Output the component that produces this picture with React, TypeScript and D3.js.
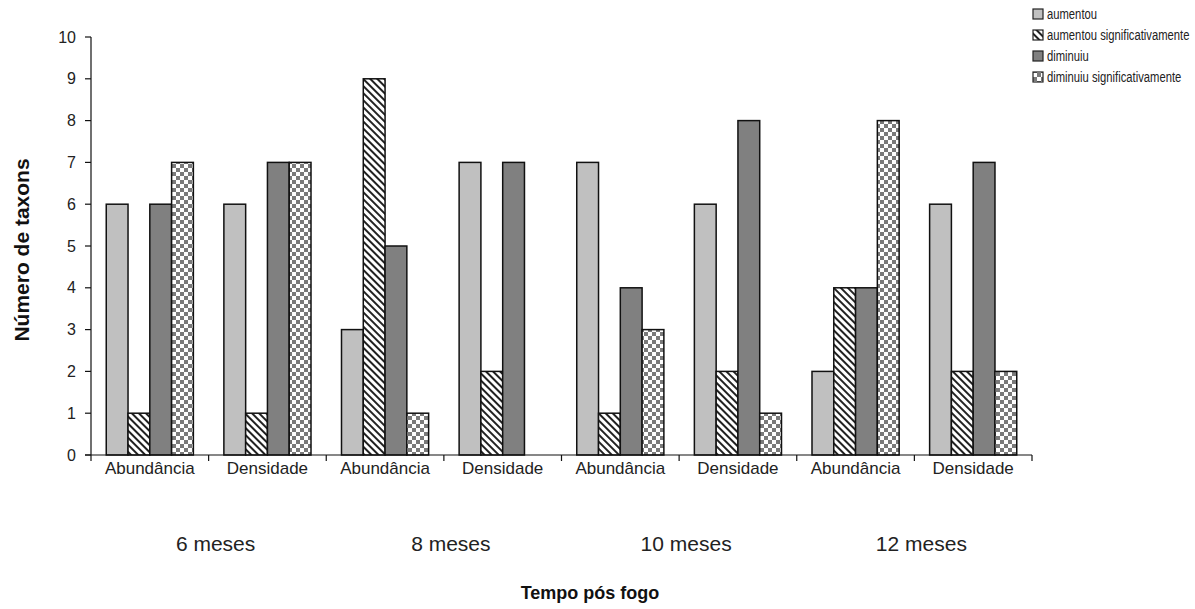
import React from "react";
import * as d3 from "d3";

const periods = ["6 meses", "8 meses", "10 meses", "12 meses"];
const measures = ["Abundância", "Densidade"];
const seriesNames = [
  "aumentou",
  "aumentou significativamente",
  "diminuiu",
  "diminuiu significativamente",
];
// values per category (period x measure), order: 6m Abund, 6m Dens, 8m Abund, ...
const aumentou = [6, 6, 3, 7, 7, 6, 2, 6];
const aumentouSig = [1, 1, 9, 2, 1, 2, 4, 2];
const diminuiu = [6, 7, 5, 7, 4, 8, 4, 7];
const diminuiuSig = [7, 7, 1, 0, 3, 1, 8, 2];
const yTicks = [0, 1, 2, 3, 4, 5, 6, 7, 8, 9, 10];

const W = 1195;
const H = 609;

export default function App() {
  const left = 91;
  const right = 1032;
  const top = 37;
  const bottom = 455;
  const cats = d3.range(8);
  const x = d3.scaleBand<number>().domain(cats).range([left, right]).padding(0);
  const xs = d3
    .scaleBand<number>()
    .domain([0, 1, 2, 3])
    .range([0, x.bandwidth()])
    .paddingInner(0)
    .paddingOuter(0.7);
  const y = d3.scaleLinear().domain([0, 10]).range([bottom, top]);
  const series = [aumentou, aumentouSig, diminuiu, diminuiuSig];
  const fills = ["#c0c0c0", "url(#stripes)", "#808080", "url(#checker)"];
  const font = "'Liberation Sans', Arial, sans-serif";

  const legendX = 1033;
  const legendY0 = 14;
  const legendDy = 21;

  return (
    <svg width={W} height={H} style={{ position: "absolute", left: 0, top: 0, background: "#fff" }}>
      <defs>
        <pattern id="stripes" width={5} height={5} patternUnits="userSpaceOnUse" patternTransform="rotate(-45)">
          <rect width={5} height={5} fill="#fff" />
          <line x1={1} y1={0} x2={1} y2={5} stroke="#222" strokeWidth={2} />
        </pattern>
        <pattern id="checker" width={8} height={8} patternUnits="userSpaceOnUse">
          <rect width={8} height={8} fill="#fff" />
          <rect x={0} y={0} width={4} height={4} fill="#7a7a7a" />
          <rect x={4} y={4} width={4} height={4} fill="#7a7a7a" />
        </pattern>
      </defs>
      <rect width={W} height={H} fill="#fff" />

      {/* bars */}
      {series.map((vals, si) =>
        vals.map((v, ci) =>
          v > 0 ? (
            <rect
              key={`b${si}-${ci}`}
              x={(x(ci) as number) + (xs(si) as number)}
              y={y(v)}
              width={xs.bandwidth()}
              height={y(0) - y(v)}
              fill={fills[si]}
              stroke="#111"
              strokeWidth={1.5}
            />
          ) : null
        )
      )}

      {/* y axis */}
      <line x1={left} y1={top} x2={left} y2={bottom} stroke="#111" strokeWidth={1.2} />
      {yTicks.map((t) => (
        <g key={`yt${t}`}>
          <line x1={left - 6} y1={y(t)} x2={left} y2={y(t)} stroke="#111" strokeWidth={1.2} />
          <text x={left - 15} y={y(t)} dy="0.35em" textAnchor="end" fontFamily={font} fontSize={16} fill="#222">
            {t}
          </text>
        </g>
      ))}

      {/* x axis */}
      <line x1={left - 6} y1={bottom} x2={right} y2={bottom} stroke="#111" strokeWidth={1.2} />
      {d3.range(9).map((i) => {
        const xx = left + i * x.bandwidth();
        return <line key={`xt${i}`} x1={xx} y1={bottom} x2={xx} y2={bottom + 6} stroke="#111" strokeWidth={1.2} />;
      })}
      {cats.map((ci) => (
        <text
          key={`xl${ci}`}
          x={(x(ci) as number) + x.bandwidth() / 2}
          y={bottom + 19}
          textAnchor="middle"
          fontFamily={font}
          fontSize={17}
          fill="#222"
        >
          {measures[ci % 2]}
        </text>
      ))}
      {periods.map((p, pi) => (
        <text
          key={`pl${pi}`}
          x={(x(pi * 2) as number) + x.bandwidth() + 7}
          y={bottom + 96}
          textAnchor="middle"
          fontFamily={font}
          fontSize={21}
          fill="#222"
        >
          {p}
        </text>
      ))}

      {/* axis titles */}
      <text
        transform={`translate(29, ${(top + bottom) / 2 + 4}) rotate(-90)`}
        textAnchor="middle"
        fontFamily={font}
        fontSize={21}
        fontWeight="bold"
        fill="#111"
      >
        Número de taxons
      </text>
      <text x={590} y={599} textAnchor="middle" fontFamily={font} fontSize={18} fontWeight="bold" fill="#111">
        Tempo pós fogo
      </text>

      {/* legend */}
      {seriesNames.map((name, i) => (
        <g key={`lg${i}`} transform={`translate(${legendX}, ${legendY0 + i * legendDy})`}>
          <rect x={0} y={-5} width={10} height={10} fill={fills[i]} stroke="#222" strokeWidth={1.2} />
          <text
            transform="translate(14,0) scale(0.75,1)"
            dy="0.35em"
            fontFamily={font}
            fontSize={15}
            fill="#222"
          >
            {name}
          </text>
        </g>
      ))}
    </svg>
  );
}
